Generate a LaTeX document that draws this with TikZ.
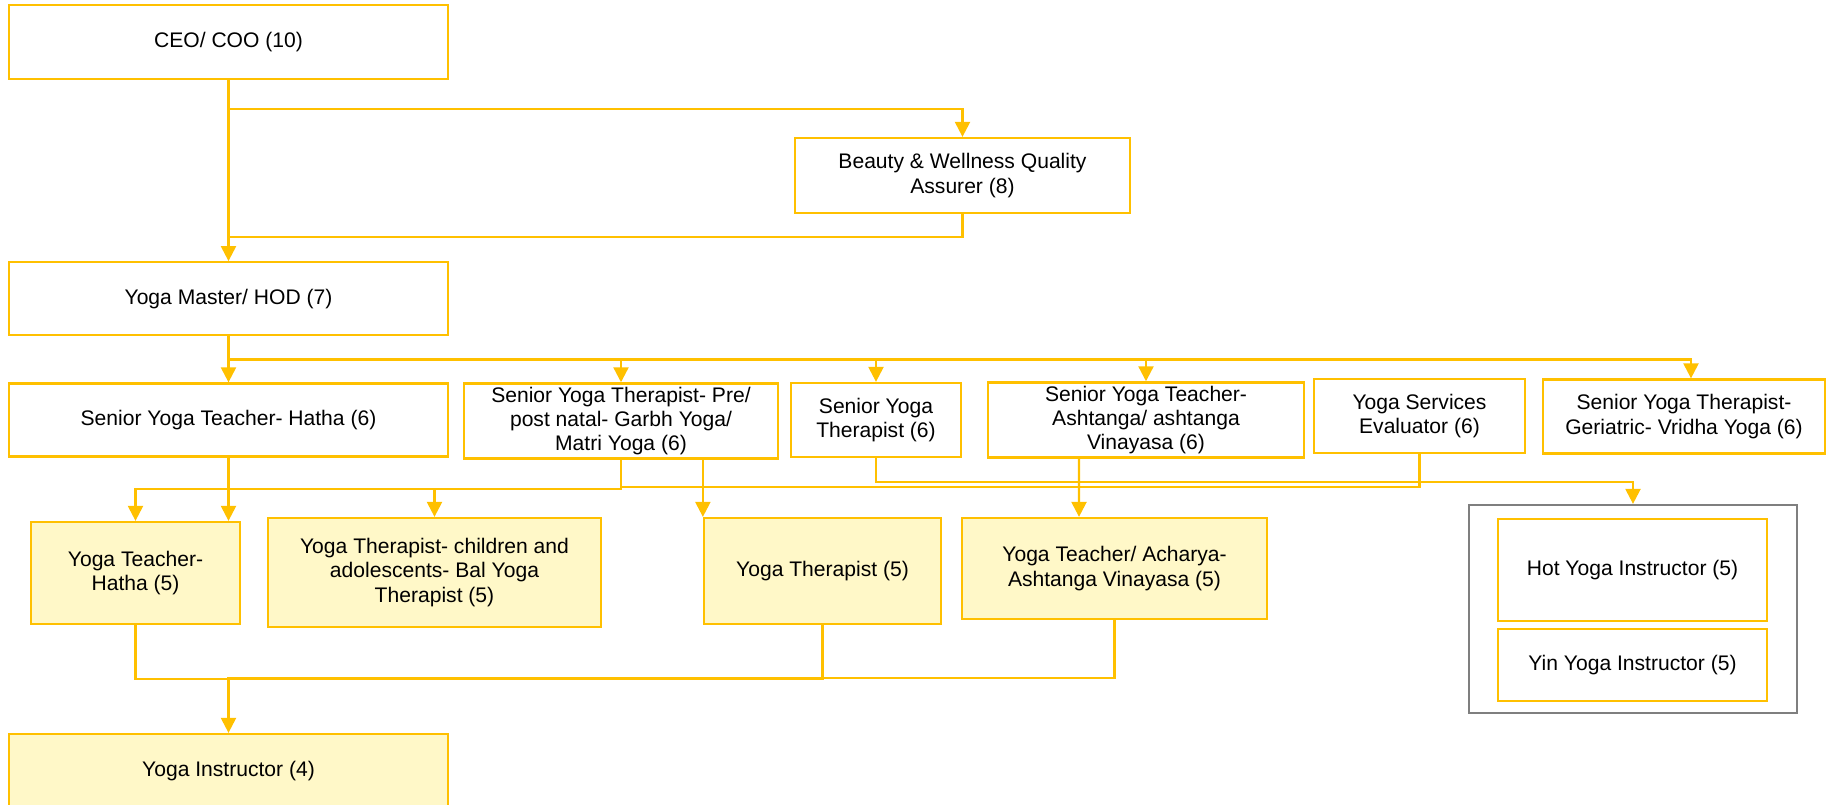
\documentclass[tikz,border=0pt]{standalone}
\usepackage{fontspec}
\setmainfont{Liberation Sans}
\usetikzlibrary{arrows.meta, positioning}
\definecolor{lineColor}{HTML}{FFC000}
\definecolor{staffColor}{HTML}{FFF8C8}
\definecolor{groupColor}{HTML}{7F7F7F}
\tikzstyle{arrow} = [line width=1.3pt, draw=lineColor, line cap=rect, -{Triangle[length=0.3cm, width=0.3cm]}]

\begin{document}
\begin{tikzpicture}[
    x=0.02cm, y=-0.02cm,
    node distance=0.12cm,
    senior/.style={draw=lineColor, line width=1.3pt, rectangle, fill=white, align=center, inner sep=2pt, font=\fontsize{12}{13.8}\selectfont},
    staff/.style={senior, fill=staffColor},
    grpbox/.style={draw=groupColor, line width=1.3pt, rectangle, minimum width=6.56cm, minimum height=4.16cm},
    line/.style={draw=lineColor, line width=1.3pt, line cap=rect}
]
\useasboundingbox (0,0) rectangle (1827,805);

% Top
\node[senior, minimum width=8.78cm, minimum height=1.48cm] (ceo) at (228.5,42) {CEO/ COO (10)};
\node[senior, minimum width=6.7cm, minimum height=1.5cm] (bwqa) at (962.5,175.5) {Beauty \& Wellness Quality\\Assurer (8)};
\node[senior, minimum width=8.78cm, minimum height=1.46cm, below=3.62cm of ceo] (hod) {Yoga Master/ HOD (7)};

% Level 6
\node[senior, minimum width=8.78cm, minimum height=1.46cm, below=0.92cm of hod] (sHatha) {Senior Yoga Teacher- Hatha (6)};
\node[senior, minimum width=6.28cm, minimum height=1.48cm] (sPre) at (621,421) {Senior Yoga Therapist- Pre/\\post natal- Garbh Yoga/\\Matri Yoga (6)};
\node[senior, minimum width=3.4cm, minimum height=1.48cm] (sTher) at (876,420) {Senior Yoga\\Therapist (6)};
\node[senior, minimum width=6.32cm, minimum height=1.48cm] (sAsht) at (1146,420) {Senior Yoga Teacher-\\Ashtanga/ ashtanga\\Vinayasa (6)};
\node[senior, minimum width=4.22cm, minimum height=1.48cm] (eval) at (1419.5,416) {Yoga Services\\Evaluator (6)};
\node[senior, minimum width=5.64cm, minimum height=1.48cm] (sGer) at (1684,416.5) {Senior Yoga Therapist-\\Geriatric- Vridha Yoga (6)};

% Level 5
\node[staff, minimum width=4.18cm, minimum height=2.04cm] (tHatha) at (135.5,573) {Yoga Teacher-\\Hatha (5)};
\node[staff, minimum width=6.66cm, minimum height=2.18cm] (tChild) at (434.5,572.5) {Yoga Therapist- children and\\adolescents- Bal Yoga\\Therapist (5)};
\node[staff, minimum width=4.74cm, minimum height=2.12cm] (tTher) at (822.5,571) {Yoga Therapist (5)};
\node[staff, minimum width=6.1cm, minimum height=2.02cm] (tAsht) at (1114.5,568.5) {Yoga Teacher/ Acharya-\\Ashtanga Vinayasa (5)};

% Instructor group
\node[grpbox] (grp) at (1633,609) {};
\node[senior, minimum width=5.38cm, minimum height=2.04cm] (hot) at (1632.5,570) {Hot Yoga Instructor (5)};
\node[senior, minimum width=5.38cm, minimum height=1.44cm, below=of hot] (yin) {Yin Yoga Instructor (5)};

% Level 4
\node[staff, minimum width=8.78cm, minimum height=1.48cm] (instr) at (228.5,771) {Yoga Instructor (4)};

% Join points
\coordinate (mrg) at (228.5,237);
\coordinate (pj) at (621,487);
\coordinate (lowbus) at (822.5,679);

% Draw lines
\draw[arrow] (ceo) -- (hod);
\draw[arrow] (ceo.south) -- ++(0,29) -| (bwqa);
\draw[line] (bwqa) |- (mrg);
\draw[arrow] (hod) -- (sHatha);
\draw[arrow] (hod.south) -- ++(0,23) -| (sPre);
\draw[arrow] (hod.south) -- ++(0,23) -| (sTher);
\draw[arrow] (hod.south) -- ++(0,23) -| (sAsht);
\draw[arrow] (hod.south) -- ++(0,23) -| ([xshift=0.14cm]sGer.north);
\draw[arrow] (sHatha) -- (sHatha |- tHatha.north);
\draw[arrow] (sPre.south) -- ++(0,29) -| (tHatha);
\draw[arrow] (sPre.south) -- ++(0,29) -| (tChild);
\draw[arrow] (sPre.south -| tTher.north west) -- (tTher.north west);
\draw[arrow] (sTher.south) -- ++(0,24) -| (grp);
\draw[line] (eval) |- (pj);
\draw[arrow] ([xshift=-1.34cm]sAsht.south) -- ([xshift=-0.71cm]tAsht.north);
\draw[line] (tHatha) |- (lowbus) -- (tTher);
\draw[arrow] (tAsht.south) -- ++(0,58) -| (instr);
\end{tikzpicture}
\end{document}
